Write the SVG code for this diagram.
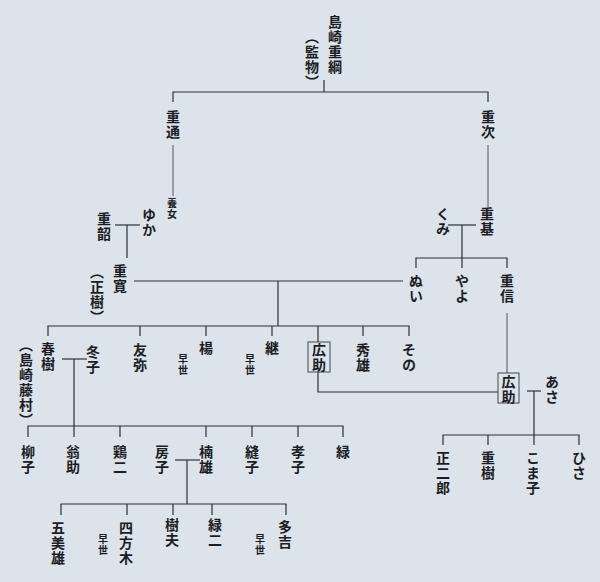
<svg xmlns="http://www.w3.org/2000/svg" width="600" height="582" viewBox="0 0 600 582">
<style>
text{font-family:"Noto Sans CJK JP","Noto Sans CJK SC",sans-serif;font-weight:bold;fill:#1c1d24;writing-mode:vertical-rl;font-size:14px;letter-spacing:1px}
text.s{font-size:10px;letter-spacing:1.5px}
#connectors line,#connectors path{stroke:#2e3036;stroke-width:1.2;fill:none}
#connectors .t{stroke-width:0.8}
rect.box{fill:none;stroke:#45474d;stroke-width:1}
</style>
<rect width="600" height="582" fill="#dde3ea"/>
<g id="connectors">
<line x1="324" y1="80" x2="324" y2="92"/>
<line x1="172.5" y1="92" x2="488.5" y2="92"/>
<line x1="173" y1="92" x2="173" y2="102"/>
<line x1="488" y1="92" x2="488" y2="102"/>
<line class="t" x1="173" y1="145" x2="173" y2="196"/>
<line class="t" x1="488" y1="145" x2="488" y2="207"/>
<line x1="115" y1="225" x2="140" y2="225"/>
<line x1="127" y1="225" x2="127" y2="258"/>
<line x1="134" y1="281" x2="403" y2="281"/>
<line x1="278" y1="281" x2="278" y2="326"/>
<line x1="47.5" y1="326" x2="409.5" y2="326"/>
<path d="M48 326V336M140 326V336M206 326V336M272 326V336M318 326V342M363 326V336M409 326V336"/>
<line x1="448" y1="225" x2="476" y2="225"/>
<line x1="462" y1="225" x2="462" y2="258"/>
<line x1="415.5" y1="258" x2="507.5" y2="258"/>
<path d="M416 258V268M462 258V268M507 258V268"/>
<line class="t" x1="507" y1="313" x2="507" y2="373"/>
<path d="M318 372V392H498"/>
<line x1="62" y1="359" x2="87" y2="359"/>
<line x1="74" y1="359" x2="74" y2="426"/>
<line x1="27.5" y1="426" x2="343.5" y2="426"/>
<path d="M28 426V437M74 426V437M120 426V437M206 426V437M252 426V437M298 426V437M343 426V437"/>
<line x1="175" y1="460" x2="200" y2="460"/>
<line x1="187" y1="460" x2="187" y2="504"/>
<line x1="60.5" y1="504" x2="286.5" y2="504"/>
<path d="M61 504V515M127 504V515M173 504V515M212 504V515M286 504V515"/>
<line x1="527" y1="391" x2="541" y2="391"/>
<line x1="534" y1="391" x2="534" y2="435"/>
<line x1="442.5" y1="435" x2="579.5" y2="435"/>
<path d="M443 435V445M488 435V445M534 435V445M579 435V445"/>
</g>
<g id="n-shigetsuna"><text x="335" y="15">島崎重綱</text><text x="312" y="30">（監物）</text></g>
<g id="n-shigemichi"><text x="173" y="110">重通</text></g>
<g id="n-shigetsugu"><text x="488" y="110">重次</text></g>
<g id="n-youjo"><text class="s" x="172" y="198">養女</text></g>
<g id="n-yuka"><text x="149" y="208">ゆか</text></g>
<g id="n-shigeaki"><text x="104" y="212">重韶</text></g>
<g id="n-shigehiro"><text x="120" y="264">重寛</text><text x="97" y="265">（正樹）</text></g>
<g id="n-kumi"><text x="443" y="207">くみ</text></g>
<g id="n-shigemoto"><text x="487" y="207">重基</text></g>
<g id="n-nui"><text x="416" y="274">ぬい</text></g>
<g id="n-yayo"><text x="462" y="274">やよ</text></g>
<g id="n-shigenobu"><text x="507" y="274">重信</text></g>
<g id="n-haruki"><text x="48" y="342">春樹</text><text x="26" y="338">（島崎藤村）</text></g>
<g id="n-fuyuko"><text x="93" y="345">冬子</text></g>
<g id="n-tomoya"><text x="140" y="343">友弥</text></g>
<g id="n-yanagi"><text x="206" y="341">楊</text><text class="s" x="183" y="354">早世</text></g>
<g id="n-tsugu"><text x="272" y="341">継</text><text class="s" x="250" y="354">早世</text></g>
<g id="n-kousuke1"><rect class="box" x="308" y="342" width="22" height="30"/><text x="319" y="343">広助</text></g>
<g id="n-hideo"><text x="363" y="343">秀雄</text></g>
<g id="n-sono"><text x="409" y="343">その</text></g>
<g id="n-kousuke2"><rect class="box" x="498" y="373" width="21" height="30"/><text x="508.5" y="375">広助</text></g>
<g id="n-asa"><text x="552" y="375">あさ</text></g>
<g id="n-shojiro"><text x="443" y="451">正二郎</text></g>
<g id="n-shigeki"><text x="488" y="451">重樹</text></g>
<g id="n-komako"><text x="533" y="451">こま子</text></g>
<g id="n-hisa"><text x="579" y="451">ひさ</text></g>
<g id="n-ryuko"><text x="28" y="445">柳子</text></g>
<g id="n-osuke"><text x="73" y="445">翁助</text></g>
<g id="n-keiji"><text x="120" y="445">鶏二</text></g>
<g id="n-fusako"><text x="162" y="445">房子</text></g>
<g id="n-kusuo"><text x="206" y="445">楠雄</text></g>
<g id="n-nuiko"><text x="252" y="445">縫子</text></g>
<g id="n-takako"><text x="298" y="445">孝子</text></g>
<g id="n-midori"><text x="343" y="445">緑</text></g>
<g id="n-fumio"><text x="58" y="521">五美雄</text></g>
<g id="n-soseia"><text class="s" x="103" y="534">早世</text></g>
<g id="n-yomogi"><text x="126" y="521">四方木</text></g>
<g id="n-kio"><text x="172" y="518">樹夫</text></g>
<g id="n-rokuji"><text x="215" y="518">緑二</text></g>
<g id="n-soseib"><text class="s" x="260" y="534">早世</text></g>
<g id="n-takichi"><text x="285" y="520">多吉</text></g>
</svg>
